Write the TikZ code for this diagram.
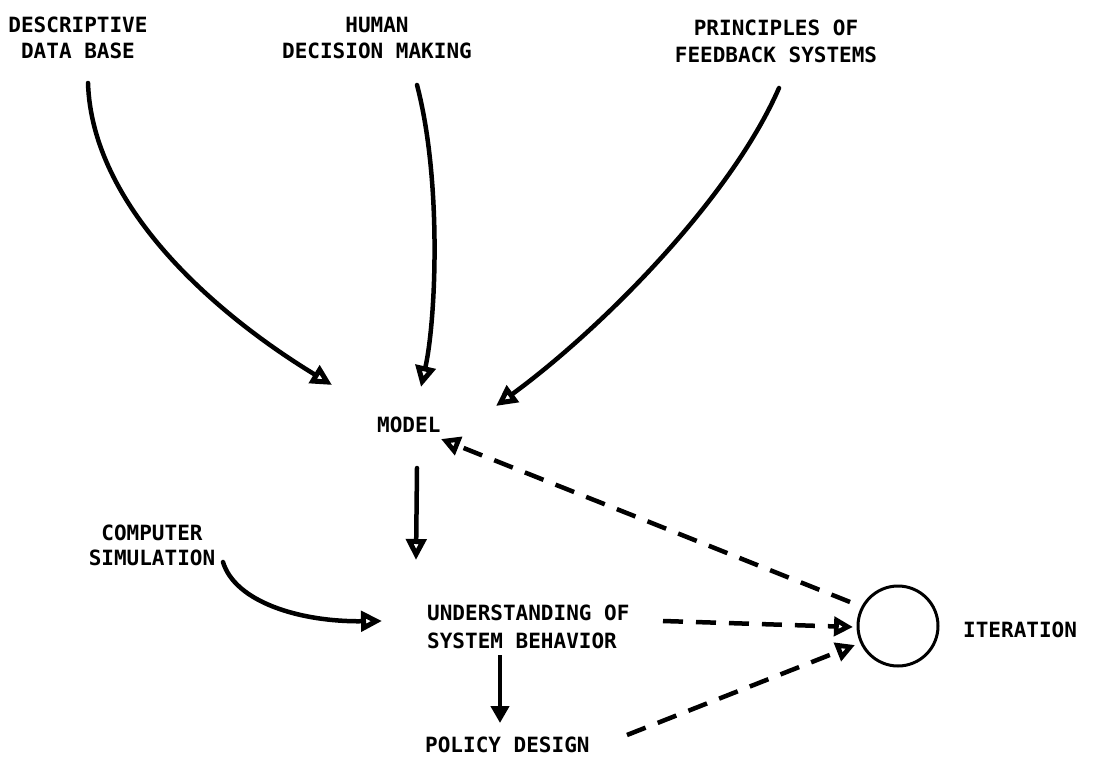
\documentclass[tikz,border=0pt]{standalone}
\usepackage{fontspec}
\setmonofont{DejaVu Sans Mono}
\usetikzlibrary{arrows.meta}
\begin{document}
\begin{tikzpicture}[x=1pt,y=-1pt,
  lbl/.style={font=\ttfamily\bfseries\fontsize{21}{26}\selectfont, inner sep=0pt},
  flow/.style={line width=4.5pt, line cap=round,
    -{Triangle[open,length=21pt,width=20pt,line width=5pt]}},
  down/.style={line width=4.5pt, -{Triangle[length=17pt,width=18pt]}},
  loop/.style={line width=4.5pt, dash pattern=on 20pt off 13pt,
    -{Triangle[open,length=19pt,width=19pt,line width=5pt]}}
]
\useasboundingbox (0,0) rectangle (1098,765);

% labels
\node[lbl, anchor=north, align=center] (desc) at (78,17) {DESCRIPTIVE\\DATA BASE};
\node[lbl, anchor=north, align=center] (human) at (377,17) {HUMAN\\DECISION MAKING};
\node[lbl, anchor=north, align=center, font=\ttfamily\bfseries\fontsize{21}{27}\selectfont] (fb) at (776,20) {PRINCIPLES OF\\FEEDBACK SYSTEMS};
\node[lbl, anchor=north west] (model) at (377,417) {MODEL};
\node[lbl, anchor=north, align=center, font=\ttfamily\bfseries\fontsize{21}{25}\selectfont] (sim) at (152,525) {COMPUTER\\SIMULATION};
\node[lbl, anchor=north west, align=left, font=\ttfamily\bfseries\fontsize{21}{28}\selectfont] (under) at (427,605) {UNDERSTANDING OF\\SYSTEM BEHAVIOR};
\node[lbl, anchor=north west] (policy) at (425,737) {POLICY DESIGN};
\node[draw, circle, line width=3pt, minimum size=80pt, inner sep=0pt] (iter) at (898,626) {};
\node[lbl, anchor=north west] (itext) at (963,622) {ITERATION};

% connector end points
\coordinate (d0) at (88,83);
\coordinate (d1) at (332,385);
\coordinate (h0) at (417,85);
\coordinate (h1) at (421,387);
\coordinate (f0) at (779,88);
\coordinate (f1) at (496,406);
\coordinate (m0) at (417,468);
\coordinate (m1) at (416,560);
\coordinate (s0) at (223,562);
\coordinate (s1) at (382,621);
\coordinate (u0) at (500,655);
\coordinate (u1) at (500,723);
\coordinate (i0) at (850,602);
\coordinate (i1) at (441,439);
\coordinate (b0) at (663,621);
\coordinate (b1) at (853,627);
\coordinate (p0) at (627,735);
\coordinate (p1) at (855,645);

% inputs to the model
\draw[flow] (d0) .. controls (92,205) and (212,312) .. (d1);
\draw[flow] (h0) .. controls (442,180) and (436,320) .. (h1);
\draw[flow] (f0) .. controls (730,200) and (600,330) .. (f1);

% model to understanding to policy
\draw[flow] (m0) -- (m1);
\draw[flow] (s0) .. controls (235,602) and (300,622) .. (s1);
\draw[down] (u0) -- (u1);

% iteration loops
\draw[loop] (i0) -- (i1);
\draw[loop] (b0) -- (b1);
\draw[loop] (p0) -- (p1);
\end{tikzpicture}
\end{document}
